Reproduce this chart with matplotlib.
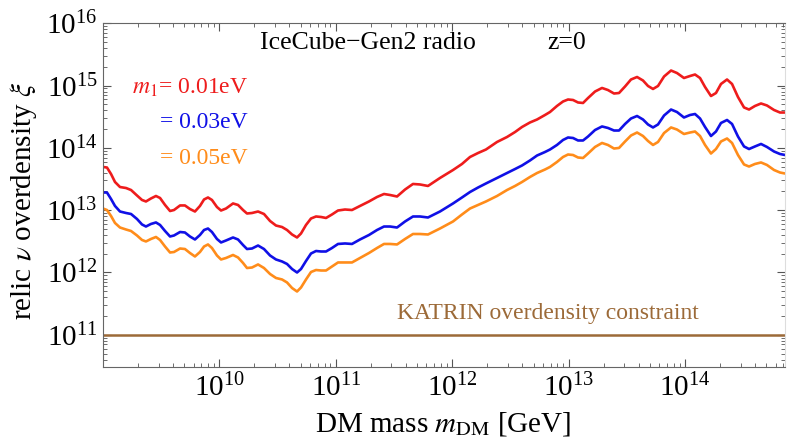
import numpy as np
import matplotlib
matplotlib.use('Agg')
import matplotlib.pyplot as plt
from matplotlib.ticker import LogLocator, NullFormatter

plt.rcParams['font.family'] = 'serif'
plt.rcParams['font.serif'] = ['Liberation Serif', 'DejaVu Serif']
plt.rcParams['mathtext.fontset'] = 'stix'

# log10 of DM mass [GeV]
log_mdm = [9.000, 9.034, 9.069, 9.103, 9.146, 9.198, 9.241, 9.292, 9.335, 9.369,
           9.412, 9.455, 9.490, 9.533, 9.576, 9.610, 9.662, 9.704, 9.747, 9.790,
           9.833, 9.868, 9.902, 9.936, 9.979, 10.014, 10.057, 10.117, 10.160, 10.203,
           10.237, 10.280, 10.332, 10.383, 10.435, 10.486, 10.538, 10.581, 10.624, 10.667,
           10.701, 10.744, 10.787, 10.830, 10.873, 10.916, 10.967, 11.019, 11.079, 11.139,
           11.208, 11.285, 11.354, 11.414, 11.466, 11.526, 11.595, 11.663, 11.723, 11.792,
           11.895, 12.007, 12.084, 12.153, 12.222, 12.290, 12.385, 12.471, 12.540, 12.600,
           12.668, 12.729, 12.797, 12.840, 12.900, 12.952, 12.995, 13.038, 13.081, 13.124,
           13.167, 13.227, 13.287, 13.338, 13.390, 13.433, 13.485, 13.536, 13.588, 13.639,
           13.682, 13.725, 13.768, 13.820, 13.880, 13.931, 13.991, 14.043, 14.086, 14.129,
           14.172, 14.223, 14.266, 14.309, 14.361, 14.404, 14.455, 14.507, 14.550, 14.601,
           14.653, 14.704, 14.765, 14.816, 14.859]

# log10 of overdensity, m1 = 0.01 eV
log_xi_001 = [13.694, 13.685, 13.581, 13.453, 13.372, 13.356, 13.324, 13.236, 13.164, 13.140,
              13.188, 13.228, 13.196, 13.084, 12.987, 13.003, 13.076, 13.076, 13.019, 12.979,
              13.068, 13.172, 13.204, 13.164, 13.051, 12.995, 13.027, 13.108, 13.084, 13.003,
              12.947, 12.955, 12.979, 12.939, 12.827, 12.754, 12.730, 12.682, 12.610, 12.562,
              12.626, 12.763, 12.867, 12.899, 12.891, 12.875, 12.931, 12.995, 13.011, 13.003,
              13.068, 13.140, 13.212, 13.260, 13.244, 13.220, 13.332, 13.421, 13.413, 13.389,
              13.517, 13.645, 13.742, 13.854, 13.918, 13.974, 14.095, 14.175, 14.255, 14.336,
              14.408, 14.456, 14.528, 14.576, 14.673, 14.745, 14.777, 14.769, 14.729, 14.721,
              14.801, 14.905, 14.962, 14.929, 14.873, 14.881, 14.986, 15.098, 15.138, 15.082,
              14.994, 14.946, 14.994, 15.146, 15.242, 15.202, 15.122, 15.154, 15.178, 15.122,
              14.978, 14.833, 14.881, 15.026, 15.098, 15.026, 14.817, 14.649, 14.616, 14.673,
              14.713, 14.681, 14.608, 14.568, 14.568]

# m1 = 0.03 eV
log_xi_003 = [13.284, 13.284, 13.180, 13.068, 12.979, 12.955, 12.939, 12.859, 12.771, 12.738,
              12.779, 12.803, 12.763, 12.666, 12.578, 12.594, 12.650, 12.642, 12.578, 12.530,
              12.602, 12.682, 12.706, 12.650, 12.538, 12.482, 12.514, 12.562, 12.530, 12.441,
              12.377, 12.385, 12.433, 12.377, 12.273, 12.209, 12.177, 12.137, 12.056, 12.000,
              12.056, 12.185, 12.305, 12.345, 12.337, 12.337, 12.393, 12.458, 12.466, 12.458,
              12.530, 12.602, 12.682, 12.738, 12.738, 12.722, 12.819, 12.899, 12.899, 12.883,
              12.979, 13.108, 13.204, 13.292, 13.364, 13.429, 13.517, 13.597, 13.661, 13.718,
              13.798, 13.878, 13.934, 13.974, 14.047, 14.127, 14.167, 14.159, 14.119, 14.119,
              14.183, 14.287, 14.344, 14.320, 14.279, 14.279, 14.384, 14.472, 14.512, 14.456,
              14.376, 14.328, 14.376, 14.520, 14.616, 14.576, 14.488, 14.528, 14.544, 14.472,
              14.336, 14.191, 14.263, 14.400, 14.448, 14.384, 14.183, 14.023, 13.982, 14.023,
              14.063, 14.015, 13.942, 13.902, 13.886]

# m1 = 0.05 eV
log_xi_005 = [13.027, 13.003, 12.907, 12.795, 12.722, 12.690, 12.666, 12.594, 12.522, 12.498,
              12.538, 12.570, 12.522, 12.417, 12.321, 12.329, 12.385, 12.377, 12.313, 12.257,
              12.329, 12.417, 12.450, 12.393, 12.273, 12.209, 12.233, 12.281, 12.241, 12.153,
              12.072, 12.080, 12.129, 12.072, 11.976, 11.912, 11.888, 11.840, 11.751, 11.695,
              11.759, 11.888, 12.008, 12.040, 12.032, 12.032, 12.096, 12.161, 12.161, 12.161,
              12.233, 12.313, 12.393, 12.458, 12.458, 12.450, 12.538, 12.618, 12.618, 12.610,
              12.706, 12.819, 12.931, 13.027, 13.084, 13.140, 13.228, 13.324, 13.389, 13.453,
              13.533, 13.597, 13.653, 13.694, 13.774, 13.854, 13.894, 13.886, 13.846, 13.838,
              13.910, 14.015, 14.079, 14.047, 13.990, 13.999, 14.103, 14.199, 14.247, 14.191,
              14.111, 14.047, 14.095, 14.239, 14.328, 14.295, 14.223, 14.247, 14.263, 14.191,
              14.047, 13.910, 13.982, 14.103, 14.151, 14.079, 13.886, 13.734, 13.701, 13.742,
              13.766, 13.726, 13.645, 13.605, 13.589]

katrin_limit = 1e11
series_labels = ['0.01eV', '0.03eV', '0.05eV']
series_colors = ['#ee1c1c', '#1010e6', '#ff8c1a']
katrin_color = '#9c6a38'

assert len(log_mdm) == len(log_xi_001) == len(log_xi_003) == len(log_xi_005)

mdm = 10 ** np.array(log_mdm)
curves = [10 ** np.array(c) for c in (log_xi_001, log_xi_003, log_xi_005)]

fig = plt.figure(figsize=(7.87, 4.38), dpi=100)
ax = fig.add_axes([103/787, 1-367/438, 682/787, 343.7/438])

for y, col in zip(curves, series_colors):
    ax.plot(mdm, y, color=col, lw=1.9, solid_joinstyle='round', solid_capstyle='round')
ax.axhline(katrin_limit, color=katrin_color, lw=1.8)

ax.set_xscale('log')
ax.set_yscale('log')
ax.set_xlim(1e9, 10 ** 14.859)
ax.set_ylim(10 ** 10.483, 1e16)
ax.set_xticks([1e10, 1e11, 1e12, 1e13, 1e14])
ax.set_yticks([1e11, 1e12, 1e13, 1e14, 1e15, 1e16])
ax.xaxis.set_minor_locator(LogLocator(base=10, subs=np.arange(2, 10), numticks=20))
ax.yaxis.set_minor_locator(LogLocator(base=10, subs=np.arange(2, 10), numticks=20))
ax.xaxis.set_minor_formatter(NullFormatter())
ax.yaxis.set_minor_formatter(NullFormatter())
ax.tick_params(which='both', direction='in', top=True, right=True, colors='#555555',
               labelcolor='black', labelsize=21)
ax.tick_params(which='major', length=6, width=0.8)
ax.tick_params(which='minor', length=3, width=0.6)
ax.tick_params(axis='x', which='major', pad=5)
ax.tick_params(axis='y', which='major', pad=4)
for s in ['left', 'bottom', 'top']:
    ax.spines[s].set_color('#666666')
ax.spines['right'].set_color('#dddddd')

fig.text(443/787, 1-431/438, r'DM mass $m_{\rm DM}$ [GeV]', ha='center', va='baseline', fontsize=21)
fig.text(24/787, 1-201/438, r'relic $\nu$ overdensity $\xi$', ha='center', va='center',
         rotation=90, fontsize=21)

ax.text(0.230, 0.943, 'IceCube\u2212Gen2 radio', transform=ax.transAxes, ha='left', va='center', fontsize=18.5)
ax.text(0.652, 0.943, 'z=0', transform=ax.transAxes, ha='left', va='center', fontsize=18.5)
ax.text(0.2126, 0.812, r'$m_1$= ' + series_labels[0], transform=ax.transAxes, ha='right', va='center',
        fontsize=17, color=series_colors[0])
ax.text(0.2126, 0.710, '= ' + series_labels[1], transform=ax.transAxes, ha='right', va='center',
        fontsize=17, color=series_colors[1])
ax.text(0.2126, 0.608, '= ' + series_labels[2], transform=ax.transAxes, ha='right', va='center',
        fontsize=17, color=series_colors[2])
ax.text(0.431, 0.157, 'KATRIN overdensity constraint', transform=ax.transAxes, ha='left', va='center',
        fontsize=17, color=katrin_color)

fig.savefig('out.png', dpi=100)
